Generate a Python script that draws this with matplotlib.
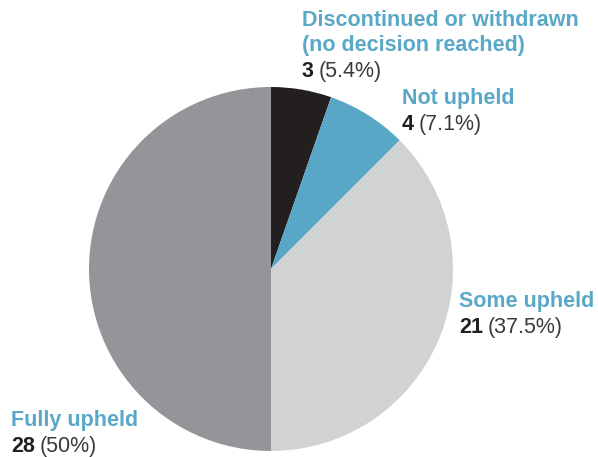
import matplotlib.pyplot as plt

labels = ['Discontinued or withdrawn\n(no decision reached)', 'Not upheld', 'Some upheld', 'Fully upheld']
counts = [3, 4, 21, 28]
pcts = ['5.4%', '7.1%', '37.5%', '50%']
colors = ['#231f20', '#59a7c6', '#d1d2d4', '#939598']

W, H = 598, 457
fig = plt.figure(figsize=(W / 100, H / 100), dpi=100)
ax = fig.add_axes([0, 0, 1, 1])

ax.pie(counts, colors=colors, startangle=90, counterclock=False,
       center=(271, H - 269), radius=182, wedgeprops=dict(linewidth=0))
ax.set_xlim(0, W)
ax.set_ylim(0, H)
ax.set_aspect('equal')
ax.axis('off')

plt.rcParams['font.family'] = ['Liberation Sans', 'DejaVu Sans']
fs = 15.5
pitch = 25

# label positions (left x, top y in pixels from top)
label_pos = [(302, 10), (402, 88), (459, 291), (11, 410)]

renderer = fig.canvas.get_renderer()
for lab, n, p, (x, y) in zip(labels, counts, pcts, label_pos):
    lines = lab.split('\n')
    for i, line in enumerate(lines):
        ax.text(x, H - y - i * pitch, line, fontsize=fs, fontweight='bold',
                color='#5aa8c8', ha='left', va='top')
    yb = H - y - len(lines) * pitch - 1
    t = ax.text(x, yb, str(n), fontsize=fs, fontweight='bold', color='#231f20',
                ha='left', va='top')
    bb = t.get_window_extent(renderer)
    ax.text(x + bb.width + 5, yb, '(' + p + ')', fontsize=fs, color='#3a3a3c',
            ha='left', va='top')

fig.savefig('out.png', dpi=100)
